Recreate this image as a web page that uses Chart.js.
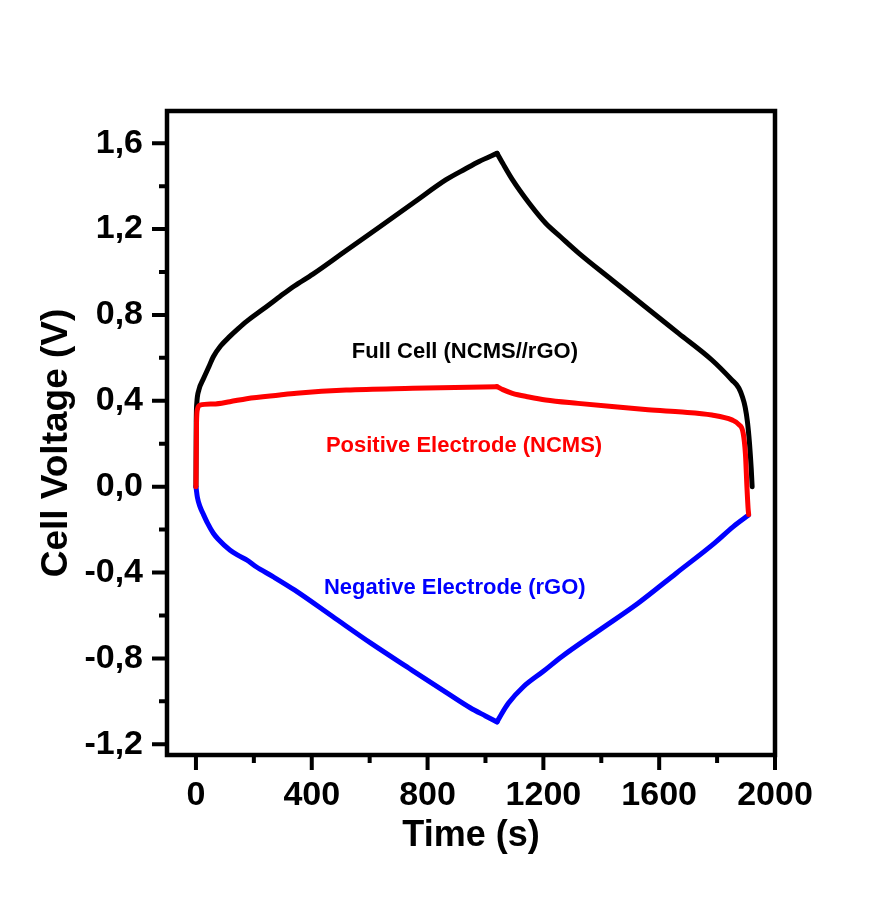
<!DOCTYPE html>
<html>
<head>
<meta charset="utf-8">
<title>Charge-discharge curves</title>
<script src="https://cdn.jsdelivr.net/npm/chart.js@4.4.1/dist/chart.umd.min.js"></script>
<style>
  html, body { margin: 0; padding: 0; background: #fff; }
  #wrap { width: 893px; height: 897px; }
</style>
</head>
<body>
<div id="wrap"><canvas id="gcdChart" width="893" height="897"></canvas></div>
<script>
// full cell (NCMS//rGO)
const fullTime = [0, 1, 3, 10, 25, 45, 60, 85, 117, 145, 175, 230, 289, 340, 404, 519, 634, 749, 864, 930, 978, 1040,
    1060, 1093, 1151, 1208, 1260, 1323, 1437, 1552, 1667, 1782, 1851, 1875, 1887, 1897, 1905, 1912, 1918, 1921];
const fullVolt = [0.0, 0.30, 0.39, 0.45, 0.50, 0.56, 0.605, 0.655, 0.70, 0.735, 0.77, 0.825, 0.885, 0.935, 0.99, 1.10, 1.21, 1.32, 1.43, 1.48, 1.515, 1.553,
    1.505, 1.43, 1.32, 1.227, 1.163, 1.087, 0.963, 0.838, 0.714, 0.59, 0.497, 0.46, 0.42, 0.37, 0.30, 0.20, 0.08, 0.0];

// positive electrode (NCMS)
const posTime = [0, 1, 2, 5, 14, 60, 117, 175, 289, 347, 519, 749, 1040,
    1060, 1093, 1150, 1208, 1320, 1437, 1552, 1667, 1782, 1851, 1875, 1890, 1898, 1903, 1907, 1909];
const posVolt = [0.0, 0.15, 0.30, 0.36, 0.38, 0.385, 0.396, 0.41, 0.427, 0.435, 0.45, 0.458, 0.466,
    0.452, 0.435, 0.418, 0.404, 0.388, 0.373, 0.36, 0.349, 0.334, 0.311, 0.29, 0.25, 0.15, 0.0, -0.10, -0.13];

// negative electrode (rGO)
const negTime = [0, 5, 14, 24, 40, 60, 77, 117, 143, 175, 208, 266, 340, 472, 604, 736, 868, 947, 1000, 1040,
    1055, 1079, 1131, 1200, 1263, 1395, 1527, 1659, 1790, 1856, 1909];
const negVolt = [0.0, -0.05, -0.093, -0.124, -0.17, -0.217, -0.245, -0.295, -0.318, -0.341, -0.373, -0.419, -0.481, -0.605, -0.729, -0.846, -0.962, -1.03, -1.068, -1.096,
    -1.06, -1.009, -0.932, -0.86, -0.792, -0.667, -0.543, -0.403, -0.264, -0.186, -0.132];

// end of charge, where each curve turns
const switchTime = 1040;

const xTicks = [0, 400, 800, 1200, 1600, 2000];
const xMinor = [200, 600, 1000, 1400, 1800];
const yTicks = [-1.2, -0.8, -0.4, 0.0, 0.4, 0.8, 1.2, 1.6];
const yTickLabels = ['-1,2', '-0,8', '-0,4', '0,0', '0,4', '0,8', '1,2', '1,6'];
const yMinor = [-1.0, -0.6, -0.2, 0.2, 0.6, 1.0, 1.4];

// curve labels, placed in data units
const curveLabels = [
    { text: 'Full Cell (NCMS//rGO)', x: 929, y: 0.627, color: '#000000' },
    { text: 'Positive Electrode (NCMS)', x: 926, y: 0.19, color: '#ff0000' },
    { text: 'Negative Electrode (rGO)', x: 894, y: -0.472, color: '#0000ff' }
];

const FONT = "'Liberation Sans', Arial, sans-serif";

function pts(xs, ys) {
    return xs.map((x, i) => ({ x: x, y: ys[i] }));
}

// charge and discharge branches are drawn separately so the turning point stays sharp
function branches(label, xs, ys, color) {
    const data = pts(xs, ys);
    const k = xs.indexOf(switchTime);
    return [
        { label: label, data: data.slice(0, k + 1), borderColor: color },
        { label: label, data: data.slice(k), borderColor: color }
    ];
}

const frameAndText = {
    id: 'frameAndText',
    afterDatasetsDraw(chart) {
        const { ctx, chartArea: a, scales } = chart;
        const xs = scales.x, ys = scales.y;
        ctx.save();
        ctx.strokeStyle = '#000';
        ctx.lineWidth = 4.5;
        ctx.lineCap = 'butt';
        ctx.strokeRect(a.left, a.top, a.right - a.left, a.bottom - a.top);

        // outward ticks on the left and bottom
        ctx.lineWidth = 4;
        ctx.beginPath();
        xTicks.forEach(v => { const p = xs.getPixelForValue(v); ctx.moveTo(p, a.bottom); ctx.lineTo(p, a.bottom + 15); });
        xMinor.forEach(v => { const p = xs.getPixelForValue(v); ctx.moveTo(p, a.bottom); ctx.lineTo(p, a.bottom + 8); });
        yTicks.forEach(v => { const p = ys.getPixelForValue(v); ctx.moveTo(a.left, p); ctx.lineTo(a.left - 15, p); });
        yMinor.forEach(v => { const p = ys.getPixelForValue(v); ctx.moveTo(a.left, p); ctx.lineTo(a.left - 8, p); });
        ctx.stroke();

        // axis titles
        ctx.fillStyle = '#000';
        ctx.textAlign = 'center';
        ctx.textBaseline = 'middle';
        ctx.font = 'bold 36px ' + FONT;
        ctx.fillText('Time (s)', (a.left + a.right) / 2, 836);
        ctx.save();
        ctx.translate(57, 443);
        ctx.rotate(-Math.PI / 2);
        ctx.font = 'bold 37px ' + FONT;
        ctx.fillText('Cell Voltage (V)', 0, 0);
        ctx.restore();

        // curve labels
        ctx.font = 'bold 22px ' + FONT;
        curveLabels.forEach(l => {
            ctx.fillStyle = l.color;
            ctx.fillText(l.text, xs.getPixelForValue(l.x), ys.getPixelForValue(l.y));
        });
        ctx.restore();
    }
};

new Chart(document.getElementById('gcdChart').getContext('2d'), {
    type: 'line',
    data: {
        datasets: [
            ...branches('Positive Electrode (NCMS)', posTime, posVolt, '#ff0000'),
            ...branches('Negative Electrode (rGO)', negTime, negVolt, '#0000ff'),
            ...branches('Full Cell (NCMS//rGO)', fullTime, fullVolt, '#000000')
        ]
    },
    options: {
        responsive: false,
        animation: false,
        parsing: false,
        elements: {
            line: { borderWidth: 5, cubicInterpolationMode: 'monotone', fill: false, borderJoinStyle: 'round', borderCapStyle: 'round' },
            point: { radius: 0 }
        },
        layout: { padding: { top: 111, right: 118, bottom: 0, left: 0 } },
        plugins: {
            legend: { display: false },
            tooltip: { enabled: false }
        },
        scales: {
            x: {
                type: 'linear',
                min: -100,
                max: 2000,
                afterBuildTicks: s => { s.ticks = xTicks.map(v => ({ value: v })); },
                afterFit: s => { s.height = 142; },
                grid: { display: false, drawTicks: false },
                border: { display: false },
                ticks: {
                    color: '#000',
                    padding: 20,
                    maxRotation: 0,
                    autoSkip: false,
                    font: { family: FONT, size: 34, weight: 'bold' },
                    callback: v => String(v)
                }
            },
            y: {
                type: 'linear',
                min: -1.25,
                max: 1.75,
                afterBuildTicks: s => { s.ticks = yTicks.map(v => ({ value: v })); },
                afterFit: s => { s.width = 167; },
                grid: { display: false, drawTicks: false },
                border: { display: false },
                ticks: {
                    color: '#000',
                    padding: 24,
                    autoSkip: false,
                    font: { family: FONT, size: 34, weight: 'bold' },
                    callback: (v, i) => yTickLabels[i]
                }
            }
        }
    },
    plugins: [frameAndText]
});
</script>
</body>
</html>
